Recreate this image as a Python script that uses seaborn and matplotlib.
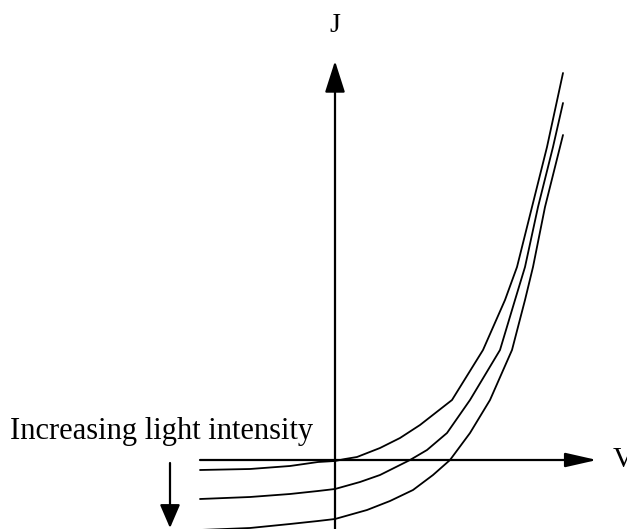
import matplotlib
matplotlib.use("Agg")
import matplotlib.pyplot as plt
import seaborn as sns
import pandas as pd

# ---- data (V, J), origin at the axes crossing ----
curve_a_v = [-135, -85, -45, -17, 0, 10, 22, 45, 65, 85, 117, 148, 170, 182, 197, 212, 228]
curve_a_j = [-10, -9, -6, -2, -1, 1, 3, 12, 22, 35, 60, 110, 160, 193, 253, 313, 387]

curve_b_v = [-135, -85, -45, -17, 0, 25, 45, 75, 92, 112, 135, 165, 180, 190, 203, 218, 228]
curve_b_j = [-39, -37, -34, -31, -29, -22, -15, 0, 10, 27, 60, 110, 160, 193, 253, 313, 357]

curve_c_v = [-135, -85, -45, -17, 0, 32, 55, 78, 98, 115, 135, 155, 177, 190, 198, 210, 225, 228]
curve_c_j = [-70, -68, -64, -61, -59, -50, -41, -30, -15, 0, 27, 60, 110, 160, 193, 253, 313, 325]

curve_names = ["low", "mid", "high"]

v_axis_range = [-135, 262]
j_axis_range = [-70, 399]

x_label = "V"
y_label = "J"
note_text = "Increasing light intensity"

# ---- build the table ----
frames = []
for name, v, j in zip(curve_names,
                      [curve_a_v, curve_b_v, curve_c_v],
                      [curve_a_j, curve_b_j, curve_c_j]):
    frames.append(pd.DataFrame({"V": v, "J": j, "curve": name}))
df = pd.concat(frames, ignore_index=True)

sns.set_style("white")
plt.rcParams["font.family"] = ["Liberation Serif", "DejaVu Serif"]
plt.rcParams["text.color"] = "black"

fig = plt.figure(figsize=(6.27, 5.29), dpi=100)
ax = fig.add_axes([0, 0, 1, 1])
ax.set_xlim(-335, 292)
ax.set_ylim(-69, 460)
ax.axis("off")

sns.lineplot(data=df, x="V", y="J", units="curve", estimator=None, sort=False,
             color="black", linewidth=1.3, ax=ax, legend=False)

# axes with arrows
ax.annotate("", xy=(v_axis_range[1], 0), xytext=(v_axis_range[0], 0),
            arrowprops=dict(arrowstyle="-|>,head_length=0.97,head_width=0.22",
                            mutation_scale=20, color="black", lw=1.6,
                            shrinkA=0, shrinkB=0))
ax.annotate("", xy=(0, j_axis_range[1]), xytext=(0, j_axis_range[0]),
            arrowprops=dict(arrowstyle="-|>,head_length=0.97,head_width=0.31",
                            mutation_scale=20, color="black", lw=1.6,
                            shrinkA=0, shrinkB=0))

ax.text(0, 435, y_label, ha="center", va="center", fontsize=20, color="black")
ax.text(278, 0, x_label, ha="left", va="center", fontsize=21, color="black")

# note and downward arrow
ax.text(-325, 21, note_text, ha="left", va="baseline", fontsize=22, color="black")
ax.annotate("", xy=(-165, -68), xytext=(-165, -3),
            arrowprops=dict(arrowstyle="-|>,head_length=0.72,head_width=0.31",
                            mutation_scale=20, color="black", lw=1.6,
                            shrinkA=0, shrinkB=0))

fig.savefig("out.png", dpi=100)
